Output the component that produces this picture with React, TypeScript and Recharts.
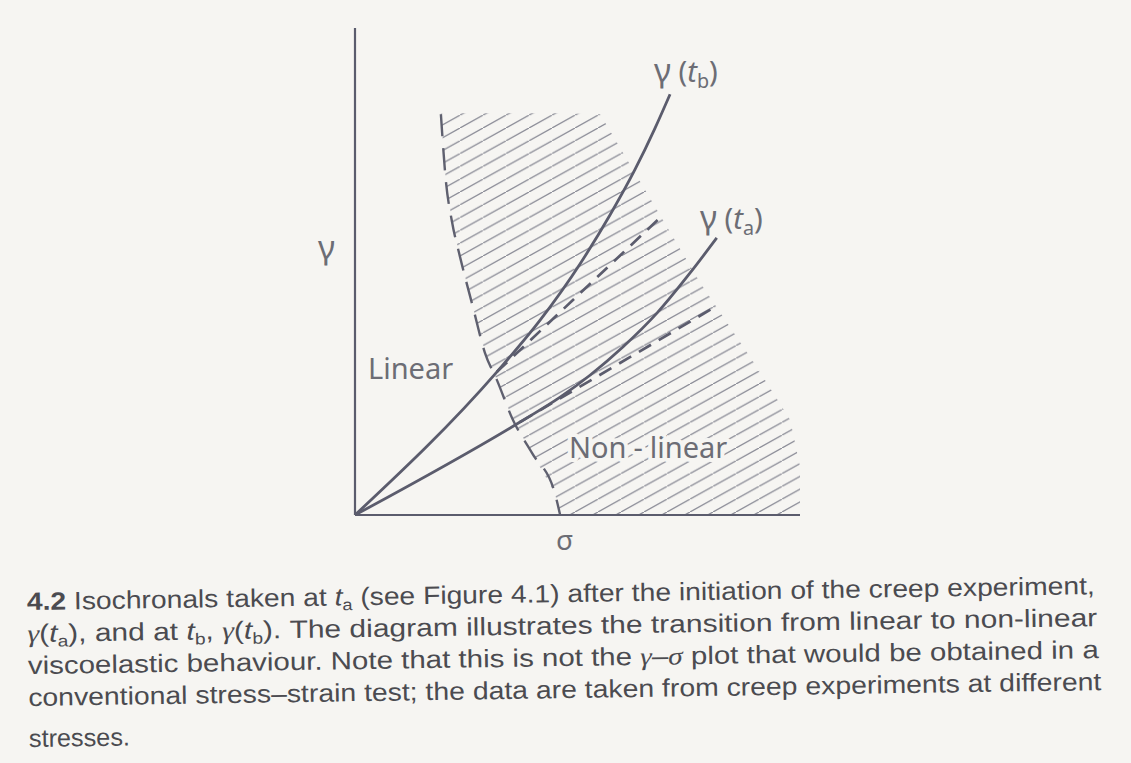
import React from "react";
import { ComposedChart, Line, Area, XAxis, YAxis } from "recharts";

// isochronal γ(t_b), read along σ
const tbSigma = [0, 31.9, 41.6, 50.6, 57.3, 62.9, 67.4, 70.8];
const tbGamma = [0, 29.4, 40.0, 51.6, 61.6, 70.9, 79.4, 86.4];

// isochronal γ(t_a)
const taSigma = [0, 37.1, 46.1, 52.8, 60.2, 67.9, 75.3, 81.3];
const taGamma = [0, 19.1, 24.2, 28.7, 34.5, 41.5, 49.7, 56.9];

// straight continuations of the linear parts (dashed)
const tbLinSigma = [31.9, 69.2];
const tbLinGamma = [29.4, 61.6];
const taLinSigma = [37.1, 81.6];
const taLinGamma = [19.1, 43.1];

// onset of non-linearity: left edge of the hatched zone
const edgeSigma = [19.3, 20.4, 21.8, 23.6, 26.5, 29.2, 31.9, 35.5, 39.8, 44.9, 46.1];
const edgeGamma = [82.3, 68.8, 60.2, 53.0, 42.7, 33.3, 27.7, 19.5, 12.7, 4.5, 0];

// hatched non-linear zone: lower / upper γ bound for each σ
const zoneSigma = [19.3, 20.4, 21.8, 23.6, 26.5, 29.2, 31.9, 35.5, 39.8, 44.9, 46.1, 55.1, 77.5, 90.3, 97.8, 100];
const zoneLow = [82.3, 68.8, 60.2, 53.0, 42.7, 33.3, 27.7, 19.5, 12.7, 4.5, 0, 0, 0, 0, 0, 0];
const zoneHigh = [82.5, 82.5, 82.5, 82.5, 82.5, 82.5, 82.5, 82.5, 82.5, 82.5, 82.5, 82.3, 47.8, 30.4, 19.5, 10];

const pts = (xs: number[], ys: number[]) => xs.map((x, i) => ({ x, y: ys[i] }));

const tbData = pts(tbSigma, tbGamma);
const taData = pts(taSigma, taGamma);
const tbLin = pts(tbLinSigma, tbLinGamma);
const taLin = pts(taLinSigma, taLinGamma);
const edgeData = pts(edgeSigma, edgeGamma);
const zoneData = zoneSigma.map((x, i) => ({ x, band: [zoneLow[i], zoneHigh[i]] }));

const PAPER = "#f6f5f2";
const INK = "#5b5c6d";
const LABEL = "#6c6d75";
const TEXT = "#4b4b50";
const FIG_FONT = "'Noto Sans', 'DejaVu Sans', sans-serif";
const CAP_FONT = "'Liberation Sans Narrow', 'Liberation Sans', Arial, sans-serif";
const MATH_FONT = "'Liberation Serif', 'DejaVu Serif', serif";

// hatch tile: one diagonal per tile, 29° rise
const HW = 23;
const HH = 12.8;

// "(t_x)" with the subscript dropped below the baseline
const Sub = ({ t, size }: { t: string; size: number }) => (
  <>
    <tspan fontStyle="italic">t</tspan>
    <tspan fontSize={size * 0.68} baselineShift={-size * 0.2}>{t}</tspan>
    <tspan>)</tspan>
  </>
);

const CapSub = ({ t }: { t: string }) => (
  <>
    <tspan fontStyle="italic">t</tspan>
    <tspan fontSize={16} baselineShift={-5}>{t}</tspan>
  </>
);

const G = () => (
  <tspan fontFamily={MATH_FONT} fontStyle="italic">γ</tspan>
);

export default function App() {
  return (
    <div
      style={{
        position: "fixed",
        left: 0,
        top: 0,
        width: 1131,
        height: 763,
        background: PAPER,
        overflow: "hidden",
      }}
    >
      <ComposedChart
        width={1131}
        height={763}
        margin={{ top: 28, right: 331, bottom: 247, left: 354 }}
      >
        <defs>
          <pattern id="hatch" patternUnits="userSpaceOnUse" width={HW} height={HH}>
            <line
              x1={0}
              y1={HH}
              x2={HW}
              y2={0}
              stroke="#8b8c97"
              strokeWidth={1.3}
              strokeLinecap="square"
            />
          </pattern>
        </defs>
        <XAxis
          type="number"
          dataKey="x"
          domain={[0, 100]}
          allowDataOverflow
          tick={false}
          tickLine={false}
          height={1}
          axisLine={{ stroke: INK, strokeWidth: 2.2 }}
        />
        <YAxis
          type="number"
          domain={[0, 100]}
          allowDataOverflow
          tick={false}
          tickLine={false}
          width={1}
          axisLine={{ stroke: INK, strokeWidth: 2.2 }}
        />
        <Area
          data={zoneData}
          dataKey="band"
          type="linear"
          stroke="none"
          fill="url(#hatch)"
          fillOpacity={1}
          isAnimationActive={false}
          activeDot={false}
        />
        <Line
          data={edgeData}
          dataKey="y"
          type="monotone"
          stroke="#5f606f"
          strokeWidth={2.4}
          strokeDasharray="22 12"
          dot={false}
          activeDot={false}
          isAnimationActive={false}
        />
        <Line
          data={tbLin}
          dataKey="y"
          type="linear"
          stroke={INK}
          strokeWidth={2.7}
          strokeDasharray="14 9"
          dot={false}
          activeDot={false}
          isAnimationActive={false}
        />
        <Line
          data={taLin}
          dataKey="y"
          type="linear"
          stroke={INK}
          strokeWidth={2.7}
          strokeDasharray="14 9"
          dot={false}
          activeDot={false}
          isAnimationActive={false}
        />
        <Line
          data={tbData}
          dataKey="y"
          type="monotone"
          stroke={INK}
          strokeWidth={2.8}
          dot={false}
          activeDot={false}
          isAnimationActive={false}
        />
        <Line
          data={taData}
          dataKey="y"
          type="monotone"
          stroke={INK}
          strokeWidth={2.8}
          dot={false}
          activeDot={false}
          isAnimationActive={false}
        />
      </ComposedChart>

      <svg
        width={1131}
        height={763}
        style={{ position: "absolute", left: 0, top: 0, pointerEvents: "none" }}
      >
        {/* figure labels */}
        <g fill={LABEL} fontFamily={FIG_FONT} fontSize={29}>
          <text x={318} y={259} fontSize={33}>γ</text>
          <text x={368} y={379}>Linear</text>
          <text
            x={569}
            y={458}
            stroke={PAPER}
            strokeWidth={8}
            paintOrder="stroke"
            strokeLinejoin="round"
          >
            <tspan>Non</tspan>
            <tspan dx={7}>-</tspan>
            <tspan dx={7}>linear</tspan>
          </text>
          <text x={654} y={82}>
            <tspan fontSize={33}>γ</tspan> (<Sub t="b" size={29} />
          </text>
          <text x={700} y={229}>
            <tspan fontSize={33}>γ</tspan> (<Sub t="a" size={29} />
          </text>
          <text x={556} y={550} fontSize={28}>σ</text>
        </g>

        {/* caption */}
        <g
          fill={TEXT}
          fontFamily={CAP_FONT}
          fontSize={25}
          transform="rotate(-0.85 27 610)"
        >
          <text x={27} y={610} textLength={1068} lengthAdjust="spacingAndGlyphs">
            <tspan fontWeight="bold">4.2</tspan>  Isochronals taken at <CapSub t="a" /> (see Figure 4.1) after the initiation of the creep experiment,
          </text>
          <text x={27} y={642} textLength={1070} lengthAdjust="spacingAndGlyphs">
            <G />(<CapSub t="a" />), and at <CapSub t="b" />, <G />(<CapSub t="b" />). The diagram illustrates the transition from linear to non-linear
          </text>
          <text x={27} y={674} textLength={1071} lengthAdjust="spacingAndGlyphs">
            viscoelastic behaviour. Note that this is not the <G />–<tspan fontFamily={MATH_FONT} fontStyle="italic">σ</tspan> plot that would be obtained in a
          </text>
          <text x={27} y={706} textLength={1073} lengthAdjust="spacingAndGlyphs">
            conventional stress–strain test; the data are taken from creep experiments at different
          </text>
          <text x={27} y={747} textLength={101} lengthAdjust="spacingAndGlyphs">
            stresses.
          </text>
        </g>
      </svg>
    </div>
  );
}
